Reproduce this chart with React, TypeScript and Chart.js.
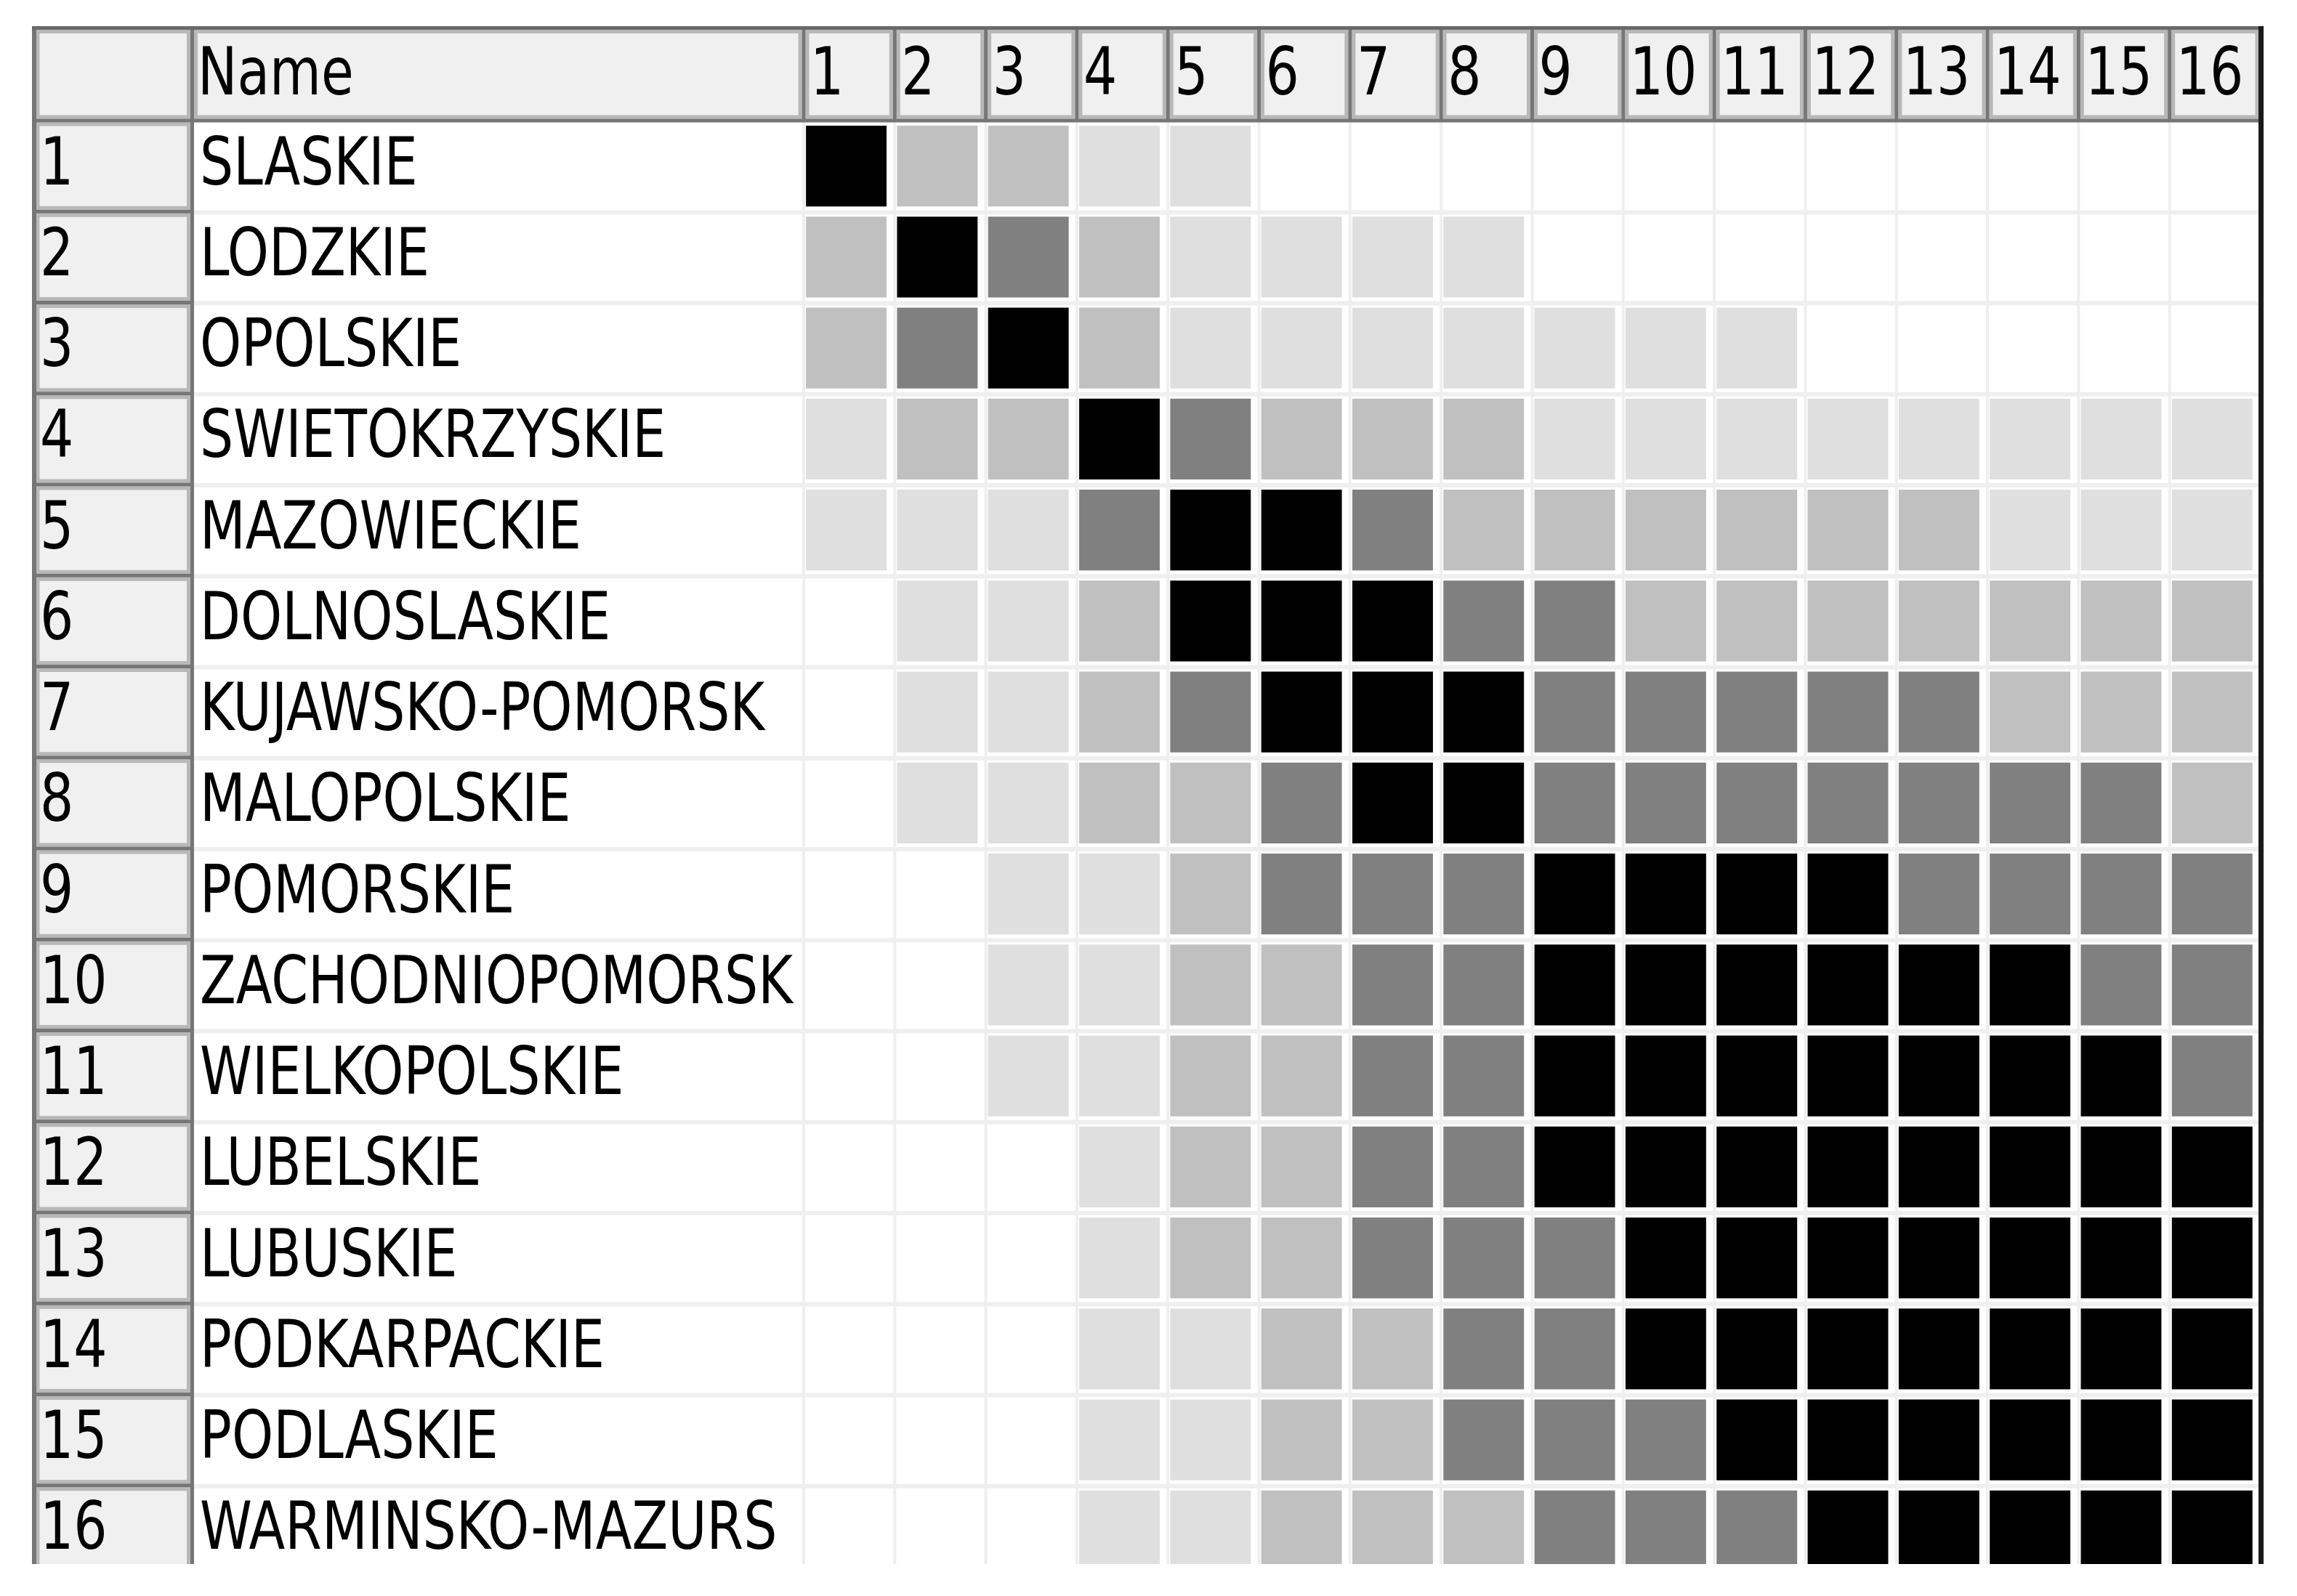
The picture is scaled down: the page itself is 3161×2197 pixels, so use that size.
import React, { useEffect, useRef } from 'react';
import { Chart, registerables } from 'chart.js';

Chart.register(...registerables);

// ---- data ----
const regionNames = [
  'SLASKIE', 'LODZKIE', 'OPOLSKIE', 'SWIETOKRZYSKIE', 'MAZOWIECKIE', 'DOLNOSLASKIE',
  'KUJAWSKO-POMORSK', 'MALOPOLSKIE', 'POMORSKIE', 'ZACHODNIOPOMORSK', 'WIELKOPOLSKIE',
  'LUBELSKIE', 'LUBUSKIE', 'PODKARPACKIE', 'PODLASKIE', 'WARMINSKO-MAZURS',
];
const rowNumbers = ['1', '2', '3', '4', '5', '6', '7', '8', '9', '10', '11', '12', '13', '14', '15', '16'];
const columnLabels = ['1', '2', '3', '4', '5', '6', '7', '8', '9', '10', '11', '12', '13', '14', '15', '16'];
const nameHeader = 'Name';

// similarity level of each region to columns 1..16 (0 = none ... 4 = strongest)
const slaskie = [4, 2, 2, 1, 1, 0, 0, 0, 0, 0, 0, 0, 0, 0, 0, 0];
const lodzkie = [2, 4, 3, 2, 1, 1, 1, 1, 0, 0, 0, 0, 0, 0, 0, 0];
const opolskie = [2, 3, 4, 2, 1, 1, 1, 1, 1, 1, 1, 0, 0, 0, 0, 0];
const swietokrzyskie = [1, 2, 2, 4, 3, 2, 2, 2, 1, 1, 1, 1, 1, 1, 1, 1];
const mazowieckie = [1, 1, 1, 3, 4, 4, 3, 2, 2, 2, 2, 2, 2, 1, 1, 1];
const dolnoslaskie = [0, 1, 1, 2, 4, 4, 4, 3, 3, 2, 2, 2, 2, 2, 2, 2];
const kujawskoPomorskie = [0, 1, 1, 2, 3, 4, 4, 4, 3, 3, 3, 3, 3, 2, 2, 2];
const malopolskie = [0, 1, 1, 2, 2, 3, 4, 4, 3, 3, 3, 3, 3, 3, 3, 2];
const pomorskie = [0, 0, 1, 1, 2, 3, 3, 3, 4, 4, 4, 4, 3, 3, 3, 3];
const zachodniopomorskie = [0, 0, 1, 1, 2, 2, 3, 3, 4, 4, 4, 4, 4, 4, 3, 3];
const wielkopolskie = [0, 0, 1, 1, 2, 2, 3, 3, 4, 4, 4, 4, 4, 4, 4, 3];
const lubelskie = [0, 0, 0, 1, 2, 2, 3, 3, 4, 4, 4, 4, 4, 4, 4, 4];
const lubuskie = [0, 0, 0, 1, 2, 2, 3, 3, 3, 4, 4, 4, 4, 4, 4, 4];
const podkarpackie = [0, 0, 0, 1, 1, 2, 2, 3, 3, 4, 4, 4, 4, 4, 4, 4];
const podlaskie = [0, 0, 0, 1, 1, 2, 2, 3, 3, 3, 4, 4, 4, 4, 4, 4];
const warminskoMazurskie = [0, 0, 0, 1, 1, 2, 2, 2, 3, 3, 3, 4, 4, 4, 4, 4];

const levelRows = [
  slaskie, lodzkie, opolskie, swietokrzyskie, mazowieckie, dolnoslaskie, kujawskoPomorskie,
  malopolskie, pomorskie, zachodniopomorskie, wielkopolskie, lubelskie, lubuskie,
  podkarpackie, podlaskie, warminskoMazurskie,
];

const levelColors = ['#ffffff', '#dfdfdf', '#c0c0c0', '#808080', '#000000'];

// ---- style ----
const FONT_FAMILY = '"DejaVu Sans Condensed", "DejaVu Sans", "Liberation Sans", sans-serif';
const FONT_SIZE = 90;
const WIDEST_TEXT_PX = 816; // rendered width of the longest name in the picture
const W = 3161;
const H = 2197;
const TABLE_LEFT = 47;
const TABLE_TOP = 38.5;
const INDEX_RIGHT = 264.5;
const CLIP_Y = 2153;
const DARK = '#767676';
const LIGHT_BAND = '#b8b8b8';
const HEADER_BG = '#f0f0f0';
const FAINT = '#efefef';

function cell3D(ctx: CanvasRenderingContext2D, x0: number, y0: number, x1: number, y1: number) {
  ctx.fillStyle = HEADER_BG;
  ctx.fillRect(x0, y0, x1 - x0, y1 - y0);
  ctx.strokeStyle = LIGHT_BAND;
  ctx.lineWidth = 5;
  ctx.strokeRect(x0 + 5, y0 + 5, x1 - x0 - 10, y1 - y0 - 10);
}

function narrowText(ctx: CanvasRenderingContext2D, text: string, x: number, y: number, sx: number) {
  ctx.save();
  ctx.translate(x, y);
  ctx.scale(sx, 1);
  ctx.fillText(text, 0, 0);
  ctx.restore();
}

const tablePlugin = {
  id: 'tableFrame',
  beforeDraw(chart: any) {
    const { ctx, chartArea: a, scales } = chart;
    const x = scales.x;
    const n = regionNames.length;
    const pitch = (a.bottom - a.top) / n;
    ctx.save();
    ctx.fillStyle = '#ffffff';
    ctx.fillRect(0, 0, chart.width, chart.height);

    // faint grid in the white area
    ctx.fillStyle = FAINT;
    for (let i = 1; i <= n; i++) {
      const yy = a.top + i * pitch;
      ctx.fillRect(INDEX_RIGHT, yy - 2, a.right - INDEX_RIGHT, 6);
    }
    for (let k = 0; k < columnLabels.length; k++) {
      const xx = x.getPixelForValue(k);
      ctx.fillRect(xx - 2, a.top, 4, CLIP_Y - a.top);
    }

    // header cells
    cell3D(ctx, TABLE_LEFT, TABLE_TOP, INDEX_RIGHT, a.top);
    cell3D(ctx, INDEX_RIGHT, TABLE_TOP, a.left, a.top);
    for (let k = 0; k < columnLabels.length; k++) {
      cell3D(ctx, x.getPixelForValue(k), TABLE_TOP, x.getPixelForValue(k + 1), a.top);
    }
    // index cells
    for (let i = 0; i < n; i++) {
      cell3D(ctx, TABLE_LEFT, a.top + i * pitch, INDEX_RIGHT, a.top + (i + 1) * pitch);
    }
    ctx.restore();
  },
  afterDraw(chart: any) {
    const { ctx, chartArea: a, scales } = chart;
    const x = scales.x;
    const yNames = scales.y;
    const yIdx = scales.yIndex;
    const xTop = scales.xTop;
    const n = regionNames.length;
    const pitch = (a.bottom - a.top) / n;
    ctx.save();

    // ---- text (real text, horizontally condensed like the original UI font) ----
    ctx.fillStyle = '#000000';
    ctx.font = `${FONT_SIZE}px ${FONT_FAMILY}`;
    ctx.textAlign = 'left';
    ctx.textBaseline = 'alphabetic';
    const widest = regionNames.reduce((m, s) => Math.max(m, ctx.measureText(s).width), 0);
    const sx = widest > 0 ? WIDEST_TEXT_PX / widest : 1;

    const names = yNames.getLabels();
    names.forEach((lab: string, i: number) => {
      const base = yNames.getPixelForTick(i) + 25;
      if (base - 70 < CLIP_Y) narrowText(ctx, lab, yNames.left, base, sx);
    });
    const idx = yIdx.getLabels();
    idx.forEach((lab: string, i: number) => {
      const base = yIdx.getPixelForTick(i) + 25;
      if (base - 70 < CLIP_Y) narrowText(ctx, lab, yIdx.left, base, sx);
    });
    const cols = xTop.getLabels();
    cols.forEach((lab: string, k: number) => {
      const left = xTop.getPixelForTick(k) - (xTop.getPixelForTick(1) - xTop.getPixelForTick(0)) / 2;
      narrowText(ctx, lab, left + 9, 130, sx);
    });
    narrowText(ctx, nameHeader, yNames.left - 3, 130, sx);

    // table is cut at the bottom
    ctx.fillStyle = '#ffffff';
    ctx.fillRect(0, CLIP_Y, chart.width, chart.height - CLIP_Y);

    ctx.fillStyle = DARK;
    // header separators
    ctx.fillRect(a.left - 2.5, TABLE_TOP, 5, a.top - TABLE_TOP);
    for (let k = 1; k < columnLabels.length; k++) {
      ctx.fillRect(x.getPixelForValue(k) - 2.5, TABLE_TOP, 5, a.top - TABLE_TOP);
    }
    // header bottom
    ctx.fillRect(TABLE_LEFT - 3, a.top - 2.5, a.right - TABLE_LEFT + 3, 5);
    // index row separators
    for (let i = 1; i <= n; i++) {
      const yy = a.top + i * pitch;
      if (yy < CLIP_Y) ctx.fillRect(TABLE_LEFT - 3, yy - 2.5, INDEX_RIGHT - TABLE_LEFT + 3, 5);
    }
    // left and index-right borders
    ctx.fillRect(TABLE_LEFT - 3, TABLE_TOP - 2.5, 6, CLIP_Y - TABLE_TOP + 2.5);
    ctx.fillRect(INDEX_RIGHT - 2.5, TABLE_TOP - 2.5, 5, CLIP_Y - TABLE_TOP + 2.5);
    // top border
    ctx.fillStyle = '#6a6a6a';
    ctx.fillRect(TABLE_LEFT - 3, TABLE_TOP - 2.5, a.right - TABLE_LEFT + 6, 5);
    // right border
    ctx.fillStyle = '#1a1a1a';
    ctx.fillRect(a.right - 3, TABLE_TOP - 2.5, 7, CLIP_Y - TABLE_TOP + 2.5);
    ctx.restore();
  },
};

export default function App() {
  const ref = useRef<HTMLCanvasElement>(null);

  useEffect(() => {
    const canvas = ref.current;
    if (!canvas) return;

    const datasets = columnLabels.map((lab, c) => ({
      label: lab,
      data: regionNames.map(() => [c + 0.025, c + 0.91]),
      backgroundColor: levelRows.map((row) => levelColors[row[c]]),
      borderWidth: 0,
      borderSkipped: false,
      grouped: false,
      barPercentage: 0.89,
      categoryPercentage: 1,
      xAxisID: 'x',
      yAxisID: 'y',
    }));

    const noGrid = { display: false, drawTicks: false, tickLength: 0 };
    const noBorder = { display: false };
    const hiddenTicks = { display: false, autoSkip: false };

    const chart = new Chart(canvas, {
      type: 'bar',
      data: { labels: regionNames, datasets: datasets as any },
      options: {
        indexAxis: 'y',
        responsive: false,
        animation: false,
        events: [],
        layout: { padding: { left: 55, top: 36, right: 50, bottom: 27 } },
        plugins: {
          legend: { display: false },
          tooltip: { enabled: false },
          title: { display: false },
        },
        scales: {
          x: { type: 'linear', min: 0, max: 16, display: false },
          xTop: {
            type: 'category',
            labels: columnLabels,
            position: 'top',
            offset: true,
            grid: noGrid,
            border: noBorder,
            ticks: hiddenTicks,
            afterFit: (s: any) => {
              s.height = 130;
              s.paddingLeft = 0;
              s.paddingRight = 0;
            },
          },
          y: {
            type: 'category',
            labels: regionNames,
            position: 'left',
            weight: 0,
            offset: true,
            grid: noGrid,
            border: noBorder,
            ticks: hiddenTicks,
            afterFit: (s: any) => {
              s.width = 831;
              s.paddingTop = 0;
              s.paddingBottom = 0;
            },
          },
          yIndex: {
            type: 'category',
            labels: rowNumbers,
            position: 'left',
            weight: 1,
            offset: true,
            grid: noGrid,
            border: noBorder,
            ticks: hiddenTicks,
            afterFit: (s: any) => {
              s.width = 220;
              s.paddingTop = 0;
              s.paddingBottom = 0;
            },
          },
        },
      } as any,
      plugins: [tablePlugin],
    });

    return () => chart.destroy();
  }, []);

  return (
    <canvas
      ref={ref}
      width={W}
      height={H}
      style={{ position: 'fixed', left: 0, top: 0, width: W, height: H, display: 'block', background: '#ffffff' }}
    />
  );
}
